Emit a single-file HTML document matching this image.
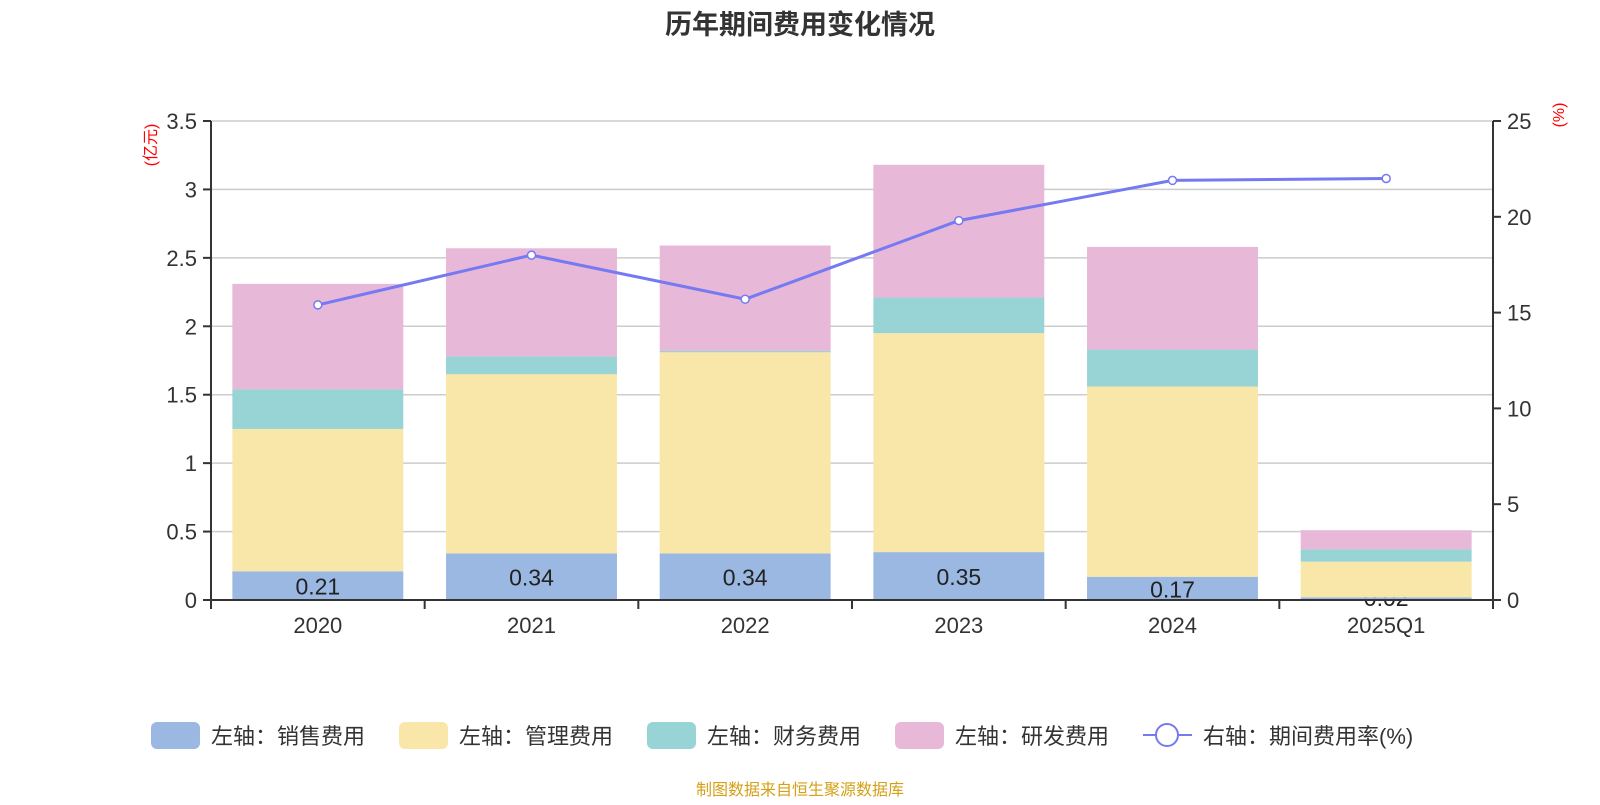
<!DOCTYPE html>
<html><head><meta charset="utf-8"><style>
body{margin:0;width:1600px;height:800px;background:#fff;overflow:hidden;font-family:"Liberation Sans","Noto Sans CJK SC",sans-serif}
</style></head><body>
<svg id="c" width="1600" height="800" xmlns="http://www.w3.org/2000/svg" font-family="Liberation Sans, Noto Sans CJK SC, sans-serif"></svg>
<script>
const categories=["2020","2021","2022","2023","2024","2025Q1"];
const sales=[0.21,0.34,0.34,0.35,0.17,0.02];
const mgmt=[1.04,1.31,1.47,1.60,1.39,0.26];
const fin=[0.29,0.13,0.01,0.26,0.27,0.09];
const rd=[0.77,0.79,0.77,0.97,0.75,0.14];
const rate=[15.4,18.0,15.7,19.8,21.9,22.0];
const leftTicks=[0,0.5,1,1.5,2,2.5,3,3.5];
const rightTicks=[0,5,10,15,20,25];
const svg=document.getElementById('c');const NS='http://www.w3.org/2000/svg';
const X0=211,X1=1493,Y0=600,Y1=121;
const yL=v=>Y0-(v/3.5)*(Y0-Y1);
const yR=v=>Y0-(v/25)*(Y0-Y1);
const bw=(X1-X0)/categories.length;
const xc=i=>X0+bw*(i+0.5);
function el(t,a,txt){const e=document.createElementNS(NS,t);for(const k in a)e.setAttribute(k,a[k]);if(txt!==undefined)e.textContent=txt;svg.appendChild(e);return e;}
let e;
e=el('text',{x:800,y:34,'text-anchor':'middle','font-size':27,'font-weight':'bold',fill:'#333'},'历年期间费用变化情况');


leftTicks.forEach(v=>{
 if(v>0){e=el('line',{x1:X0,x2:X1,y1:yL(v),y2:yL(v),stroke:'#ccc','stroke-width':1.5});
 
 }
 el('line',{x1:X0-8,x2:X0,y1:yL(v),y2:yL(v),stroke:'#333','stroke-width':2});
 e=el('text',{x:X0-14,y:yL(v)+8,'text-anchor':'end','font-size':22,fill:'#333'},String(v));
 
 
});
rightTicks.forEach(v=>{
 el('line',{x1:X1,x2:X1+8,y1:yR(v),y2:yR(v),stroke:'#333','stroke-width':2});
 e=el('text',{x:X1+14,y:yR(v)+8,'font-size':22,fill:'#333'},String(v));
 
 
});
categories.forEach((c,i)=>{
 if(sales[i]<=0.1){
  e=el('text',{x:xc(i),y:Y0+6,'text-anchor':'middle','font-size':23,fill:'#222'},sales[i].toFixed(2));
  
  
 }
});
const series=[[sales,'#9bb8e2','sales'],[mgmt,'#f8e7a8','mgmt'],[fin,'#98d4d5','finance'],[rd,'#e7b8d8','rd']];
categories.forEach((c,i)=>{
 let base=0;
 series.forEach(([arr,col,nm])=>{
  const v=arr[i];
  e=el('rect',{x:xc(i)-bw*0.4,width:bw*0.8,y:yL(base+v),height:yL(base)-yL(base+v),fill:col});
  
  
  base+=v;
 });
 if(sales[i]>0.1){
  e=el('text',{x:xc(i),y:yL(sales[i]/2)+9,'text-anchor':'middle','font-size':23,fill:'#222'},sales[i].toFixed(2));
  
  
 }
 e=el('text',{x:xc(i),y:Y0+33,'text-anchor':'middle','font-size':22,fill:'#333'},c);
 
 
});
el('line',{x1:X0,x2:X0,y1:Y1,y2:Y0,stroke:'#333','stroke-width':2});
el('line',{x1:X1,x2:X1,y1:Y1,y2:Y0,stroke:'#333','stroke-width':2});
el('line',{x1:X0,x2:X1,y1:Y0,y2:Y0,stroke:'#333','stroke-width':2});
for(let i=0;i<=categories.length;i++)el('line',{x1:X0+bw*i,x2:X0+bw*i,y1:Y0,y2:Y0+9,stroke:'#333','stroke-width':2});
e=el('polyline',{points:rate.map((v,i)=>xc(i)+','+yR(v)).join(' '),fill:'none',stroke:'#7579f2','stroke-width':3});


rate.forEach((v,i)=>{e=el('circle',{cx:xc(i),cy:yR(v),r:4,fill:'#fff',stroke:'#7579f2','stroke-width':1.5});
 
 });
e=el('text',{x:0,y:0,transform:'translate(156,145) rotate(-90)','text-anchor':'middle','font-size':16,fill:'red'},'(亿元)');


e=el('text',{x:0,y:0,transform:'translate(1564,115) rotate(-90)','text-anchor':'middle','font-size':16,fill:'red'},'(%)');


const leg=[[151,'#9bb8e2','左轴：销售费用'],[399,'#f8e7a8','左轴：管理费用'],[647,'#98d4d5','左轴：财务费用'],[895,'#e7b8d8','左轴：研发费用']];
leg.forEach(([x,col,t])=>{
 e=el('rect',{x:x,y:722,width:49,height:27,rx:6,fill:col});
 
 
 e=el('text',{x:x+60,y:744,'font-size':22,fill:'#333'},t);
 
 
});
el('line',{x1:1143,x2:1192,y1:735,y2:735,stroke:'#7579f2','stroke-width':2});
el('circle',{cx:1167,cy:735,r:11,fill:'#fff',stroke:'#7579f2','stroke-width':2});
e=el('text',{x:1203,y:744,'font-size':22,fill:'#333'},'右轴：期间费用率(%)');


e=el('text',{x:800,y:795,'text-anchor':'middle','font-size':16,fill:'#d4a017'},'制图数据来自恒生聚源数据库');


</script>
</body></html>
